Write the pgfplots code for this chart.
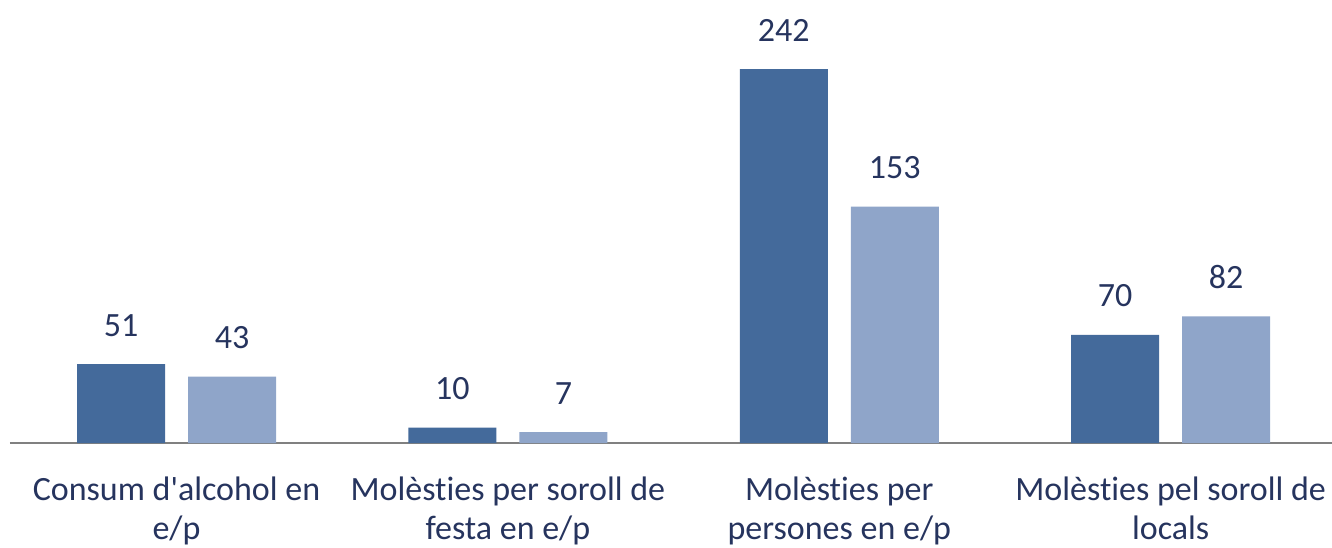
\documentclass[border=0pt]{standalone}
\usepackage{pgfplots}
\pgfplotsset{compat=1.18}
\usepackage{fontspec}
\setmainfont{Carlito}[Ligatures={TeXOff,NoCommon}]
\definecolor{darkbar}{RGB}{68,106,155}
\definecolor{lightbar}{RGB}{143,165,201}
\definecolor{txt}{RGB}{38,52,94}
\definecolor{axgray}{RGB}{128,128,128}
\begin{document}
\begin{tikzpicture}
\useasboundingbox (0,0) rectangle (1332pt,547pt);
\begin{axis}[
  at={(10pt,104pt)}, anchor=south west,
  scale only axis, width=1322pt, height=443pt,
  xmin=-0.5025, xmax=3.487, ymin=0, ymax=286.7,
  axis x line=bottom, axis y line=none,
  x axis line style={-, axgray, line width=2pt},
  xtick=data, major tick length=0pt,
  xticklabels={Consum d'alcohol en\\e/p, Molèsties per soroll de\\festa en e/p, Molèsties per\\persones en e/p, Molèsties pel soroll de\\locals},
  xticklabel style={align=center, font=\fontsize{34}{39.5}\selectfont, text=txt, anchor=north, yshift=-30pt},
  ybar, bar width=88pt,
  clip=false,
  /pgf/number format/assume math mode=true,
  nodes near coords,
  every node near coord/.append style={font=\fontsize{34}{41}\selectfont, text=txt, anchor=center, yshift=39pt},
]
\addplot[fill=darkbar, draw=none, bar shift=-55.5pt] coordinates {(0,51) (1,10) (2,242) (3,70)};
\addplot[fill=lightbar, draw=none, bar shift=55.5pt] coordinates {(0,43) (1,7) (2,153) (3,82)};
\end{axis}
\end{tikzpicture}
\end{document}
